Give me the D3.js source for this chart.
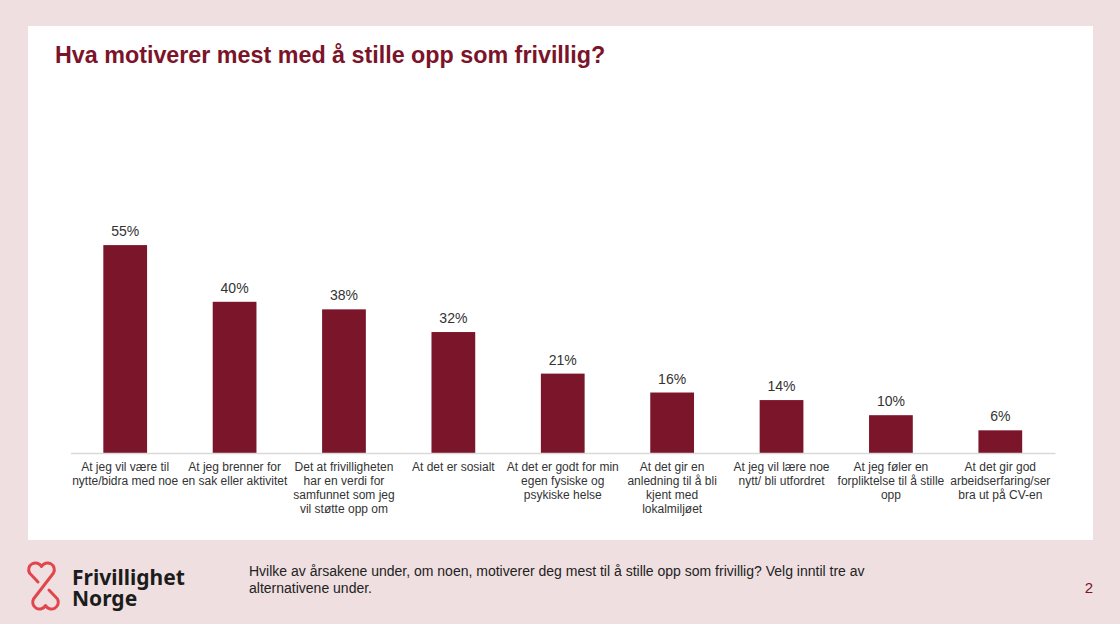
<!DOCTYPE html>
<html>
<head>
<meta charset="utf-8">
<script src="https://d3js.org/d3.v7.min.js"></script>
<title>Hva motiverer mest</title>
<style>
body {
	margin: 0;
	background: #efdfe0;
}
#root {
	width: 1120px;
	height: 624px;
	display: block;
	font-family: "Liberation Sans", Arial, sans-serif;
}
</style>
</head>
<body>
<svg id="root" width="1120" height="624"></svg>

<script>
// data
let categories = [
	['At jeg vil være til', 'nytte/bidra med noe'],
	['At jeg brenner for', 'en sak eller aktivitet'],
	['Det at frivilligheten', 'har en verdi for', 'samfunnet som jeg', 'vil støtte opp om'],
	['At det er sosialt'],
	['At det er godt for min', 'egen fysiske og', 'psykiske helse'],
	['At det gir en', 'anledning til å bli', 'kjent med', 'lokalmiljøet'],
	['At jeg vil lære noe', 'nytt/ bli utfordret'],
	['At jeg føler en', 'forpliktelse til å stille', 'opp'],
	['At det gir god', 'arbeidserfaring/ser', 'bra ut på CV-en']
]
let values = [55, 40, 38, 32, 21, 16, 14, 10, 6]

let title = 'Hva motiverer mest med å stille opp som frivillig?'
let footnote = ['Hvilke av årsakene under, om noen, motiverer deg mest til å stille opp som frivillig? Velg inntil tre av', 'alternativene under.']
let brand = ['Frivillighet', 'Norge']
let pageNo = '2'

let svg = d3.select('#root')

// white slide panel
svg.append('rect')
	.attr('x', 28).attr('y', 26)
	.attr('width', 1065).attr('height', 514)
	.attr('fill', '#ffffff')

svg.append('text')
	.attr('x', 55).attr('y', 63)
	.attr('fill', '#7b1429')
	.style('font-size', '23.3px')
	.style('font-weight', 'bold')
	.text(title)

let x = d3.scaleBand()
	.domain(d3.range(values.length))
	.range([70.5, 1055])
	.paddingInner(0.6)
	.paddingOuter(0.3)

let y = d3.scaleLinear()
	.domain([0, 60])
	.range([453, 226.2])

let bars = svg.append('g').attr('class', 'bars')

bars.selectAll('rect').data(values).enter().append('rect')
	.attr('x', (d, i) => x(i))
	.attr('y', d => y(d))
	.attr('width', x.bandwidth())
	.attr('height', d => y(0) - y(d))
	.attr('fill', '#7b1529')

bars.selectAll('text.value').data(values).enter().append('text')
	.attr('class', 'value')
	.attr('x', (d, i) => x(i) + x.bandwidth() / 2)
	.attr('y', d => y(d) - 9)
	.attr('text-anchor', 'middle')
	.attr('fill', '#333')
	.style('font-size', '14px')
	.text(d => d + '%')

// baseline axis
let xAxis = d3.axisBottom(x).tickSize(0).tickFormat('')
let axisG = svg.append('g')
	.attr('transform', 'translate(0,' + y(0) + ')')
	.call(xAxis)
axisG.select('.domain').attr('stroke', '#d9d9d9').attr('stroke-width', 1.5)

let labels = svg.append('g').attr('class', 'cat')
labels.selectAll('text').data(categories).enter().append('text')
	.attr('x', (d, i) => x(i) + x.bandwidth() / 2)
	.attr('y', 471)
	.attr('text-anchor', 'middle')
	.attr('fill', '#333')
	.style('font-size', '12px')
	.each(function(d) {
		let t = d3.select(this)
		d.forEach((line, j) => {
			t.append('tspan')
				.attr('x', t.attr('x'))
				.attr('dy', j == 0 ? 0 : 14)
				.text(line)
		})
	})

// footer: logo
svg.append('path')
	.attr('d', 'M38,582 L29.5,573 A6.3,6.3 0 0 1 41.5,566.5 A6.3,6.3 0 0 1 53.5,573 L33.5,599 A6.3,6.3 0 0 0 45.5,605.5 A6.3,6.3 0 0 0 57.5,599 L49,590')
	.attr('fill', 'none')
	.attr('stroke', '#e0474c')
	.attr('stroke-width', 3)
	.attr('stroke-linecap', 'round')
	.attr('stroke-linejoin', 'round')

// brand name as one text block, two lines
let brandText = svg.append('text')
	.attr('x', 72)
	.attr('y', 585)
	.attr('fill', '#1c1c1c')
	.style('font-family', '"Noto Sans", sans-serif')
	.style('font-size', '21px')
	.style('font-weight', 'bold')
brandText.selectAll('tspan').data(brand).enter().append('tspan')
	.attr('x', 72)
	.attr('dy', (d, i) => i == 0 ? 0 : 21)
	.text(d => d)

svg.append('g').selectAll('text').data(footnote).enter().append('text')
	.attr('x', 249)
	.attr('y', (d, i) => 576 + i * 17)
	.attr('fill', '#222')
	.style('font-size', '14px')
	.text(d => d)

svg.append('text')
	.attr('x', 1093).attr('y', 593)
	.attr('text-anchor', 'end')
	.attr('fill', '#7b1429')
	.style('font-size', '15px')
	.text(pageNo)
</script>
</body>
</html>
